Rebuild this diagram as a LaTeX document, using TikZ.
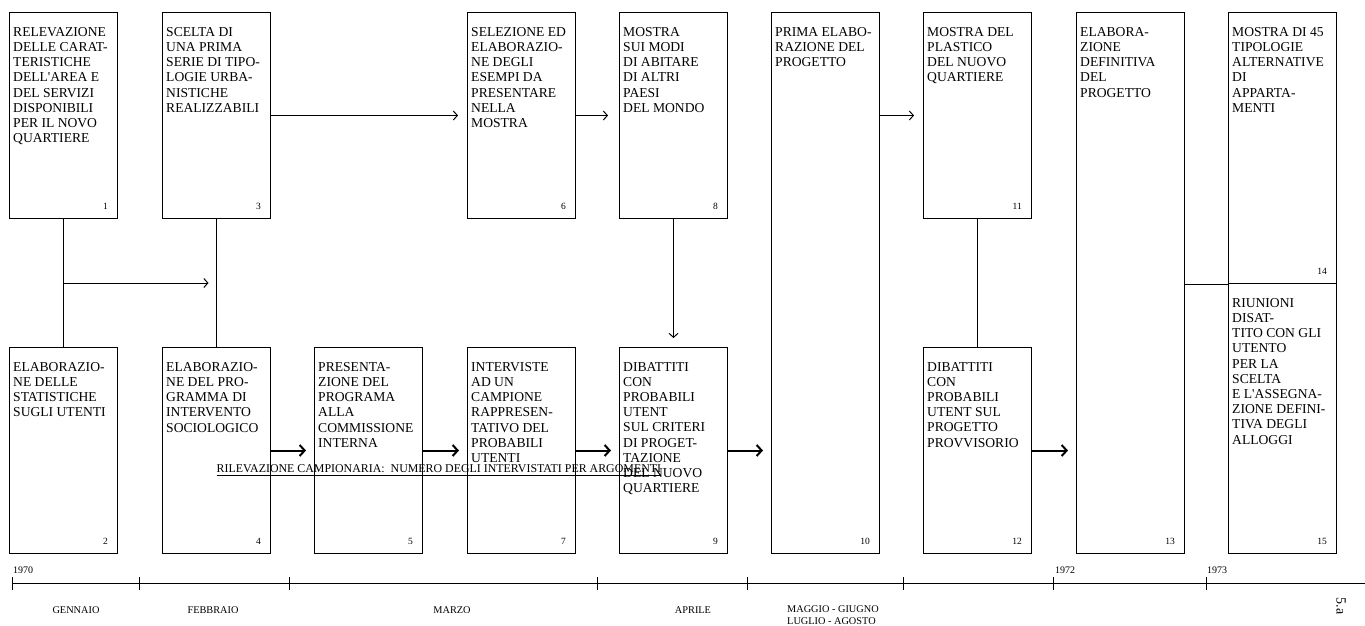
\documentclass[tikz,border=0pt]{standalone}
\usepackage{fontspec}
\setmainfont{Liberation Serif}
\usetikzlibrary{arrows.meta, calc}

\newcommand{\phase}[6]{%
  % box #1 with top left corner at (#2,#3), height #4, number #5
  \node[phasebox, minimum height=#4] (#1) at (#2,#3) {};
  \node[phasetext] (#1txt) at ([shift={(4,15)}] #1.north west) {#6};
  \node[phasenum] (#1num) at ([shift={(-10,-10)}] #1.south east) {#5};
}
\newcommand{\apo}{\textquotesingle}

\begin{document}
\begin{tikzpicture}[
    x=1pt, y=-1pt,
    phasebox/.style={rectangle, draw, line width=1pt, anchor=north west, minimum width=108pt, inner sep=0pt},
    phasetext/.style={anchor=north west, align=left, inner sep=0pt, font=\fontsize{13.6}{15.2}\selectfont},
    phasenum/.style={anchor=base east, inner sep=0pt, font=\fontsize{9.5}{11}\selectfont},
    link/.style={line width=1pt},
    arrow/.style={line width=1pt, -{Straight Barb[length=4pt,width=9pt]}, shorten >=9pt},
    bigarrow/.style={line width=2pt, -{Straight Barb[length=5pt,width=11pt]}, shorten >=8pt},
    survey/.style={anchor=base west, inner sep=0pt, font=\fontsize{11.9}{13}\selectfont},
    month/.style={inner sep=0pt, font=\fontsize{10.3}{12}\selectfont},
    year/.style={anchor=base west, inner sep=0pt, font=\fontsize{10}{12}\selectfont}
  ]
  \useasboundingbox (0,0) rectangle (1365,625);

  % top row
  \phase{b1}{9}{12}{206pt}{1}{RELEVAZIONE\\DELLE CARAT-\\TERISTICHE\\DELL\apo AREA E\\DEL SERVIZI\\DISPONIBILI\\PER IL NOVO\\QUARTIERE}
  \phase{b3}{162}{12}{206pt}{3}{SCELTA DI\\UNA PRIMA\\SERIE DI TIPO-\\LOGIE URBA-\\NISTICHE\\REALIZZABILI}
  \phase{b6}{467}{12}{206pt}{6}{SELEZIONE ED\\ELABORAZIO-\\NE DEGLI\\ESEMPI DA\\PRESENTARE\\NELLA\\MOSTRA}
  \phase{b8}{619}{12}{206pt}{8}{MOSTRA\\SUI MODI\\DI ABITARE\\DI ALTRI\\PAESI\\DEL MONDO}
  \phase{b10}{771}{12}{541pt}{10}{PRIMA ELABO-\\RAZIONE DEL\\PROGETTO}
  \phase{b11}{923}{12}{206pt}{11}{MOSTRA DEL\\PLASTICO\\DEL NUOVO\\QUARTIERE}
  \phase{b13}{1076}{12}{541pt}{13}{ELABORA-\\ZIONE\\DEFINITIVA\\DEL\\PROGETTO}
  \phase{b14}{1228}{12}{271pt}{14}{MOSTRA DI 45\\TIPOLOGIE\\ALTERNATIVE\\DI\\APPARTA-\\MENTI}

  % bottom row
  \phase{b2}{9}{347}{206pt}{2}{ELABORAZIO-\\NE DELLE\\STATISTICHE\\SUGLI UTENTI}
  \phase{b4}{162}{347}{206pt}{4}{ELABORAZIO-\\NE DEL PRO-\\GRAMMA DI\\INTERVENTO\\SOCIOLOGICO}
  \phase{b5}{314}{347}{206pt}{5}{PRESENTA-\\ZIONE DEL\\PROGRAMA\\ALLA\\COMMISSIONE\\INTERNA}
  \phase{b7}{467}{347}{206pt}{7}{INTERVISTE\\AD UN\\CAMPIONE\\RAPPRESEN-\\TATIVO DEL\\PROBABILI\\UTENTI}
  \phase{b9}{619}{347}{206pt}{9}{DIBATTITI\\CON\\PROBABILI\\UTENT\\SUL CRITERI\\DI PROGET-\\TAZIONE\\DEL NUOVO\\QUARTIERE}
  \phase{b12}{923}{347}{206pt}{12}{DIBATTITI\\CON\\PROBABILI\\UTENT SUL\\PROGETTO\\PROVVISORIO}
  \phase{b15}{1228}{283}{270pt}{15}{RIUNIONI\\DISAT-\\TITO CON GLI\\UTENTO\\PER LA\\SCELTA\\E L\apo ASSEGNA-\\ZIONE DEFINI-\\TIVA DEGLI\\ALLOGGI}

  % links between the rows
  \draw[link] (b1.south) -- (b2.north);
  \draw[link] (b3.south) -- (b4.north);
  \draw[link] (b11.south) -- (b12.north);
  \draw[link] (b14.south west -| b13.east) -- (b14.south west);
  \coordinate (j1) at ($(b1.south)!0.5!(b2.north)$);
  \draw[arrow, shorten >=8pt] (j1) -- (j1 -| b3.south);
  \draw[arrow] (b8.south) -- (b9.north);

  % top row arrows
  \draw[arrow] (b3.east) -- (b6.west);
  \draw[arrow, shorten >=11pt] (b6.east) -- (b8.west);
  \draw[arrow] (b11.west -| b10.east) -- (b11.west);

  % bottom row arrows
  \draw[bigarrow] (b4.east) -- (b5.west);
  \draw[bigarrow] (b5.east) -- (b7.west);
  \draw[bigarrow] (b7.east) -- (b9.west);
  \draw[bigarrow] (b9.east) -- (b9.east -| b10.west);
  \draw[bigarrow] (b12.east) -- (b12.east -| b13.west);

  % sample survey
  \node[survey] (svy) at (b4.center |- 0,472) {RILEVAZIONE CAMPIONARIA:\ \ NUMERO DEGLI INTERVISTATI PER ARGOMENTI};
  \draw[link] ([yshift=-3pt] svy.base west) -- ([yshift=-3pt] svy.base east);

  % time line
  \draw[link] (12,583) -- (1365,583);
  \foreach \tx in {12,139,289,597,747,903,1053,1206}
    \draw[link] (\tx,577) -- (\tx,590);
  \node[year] (y70) at (13,573) {1970};
  \node[year] (y72) at (1055,573) {1972};
  \node[year] (y73) at (1207,573) {1973};
  \node[month] (jan) at (76,610) {GENNAIO};
  \node[month] (feb) at (213,610) {FEBBRAIO};
  \node[month] (mar) at (452,610) {MARZO};
  \node[month] (apr) at (693,610) {APRILE};
  \node[month, anchor=north west, align=left] (mag) at (787,605) {MAGGIO - GIUGNO\\LUGLIO - AGOSTO};
  \node[month, rotate=-90, font=\fontsize{14}{16}\selectfont] (tab) at (1341,606) {5.a};

\end{tikzpicture}
\end{document}
